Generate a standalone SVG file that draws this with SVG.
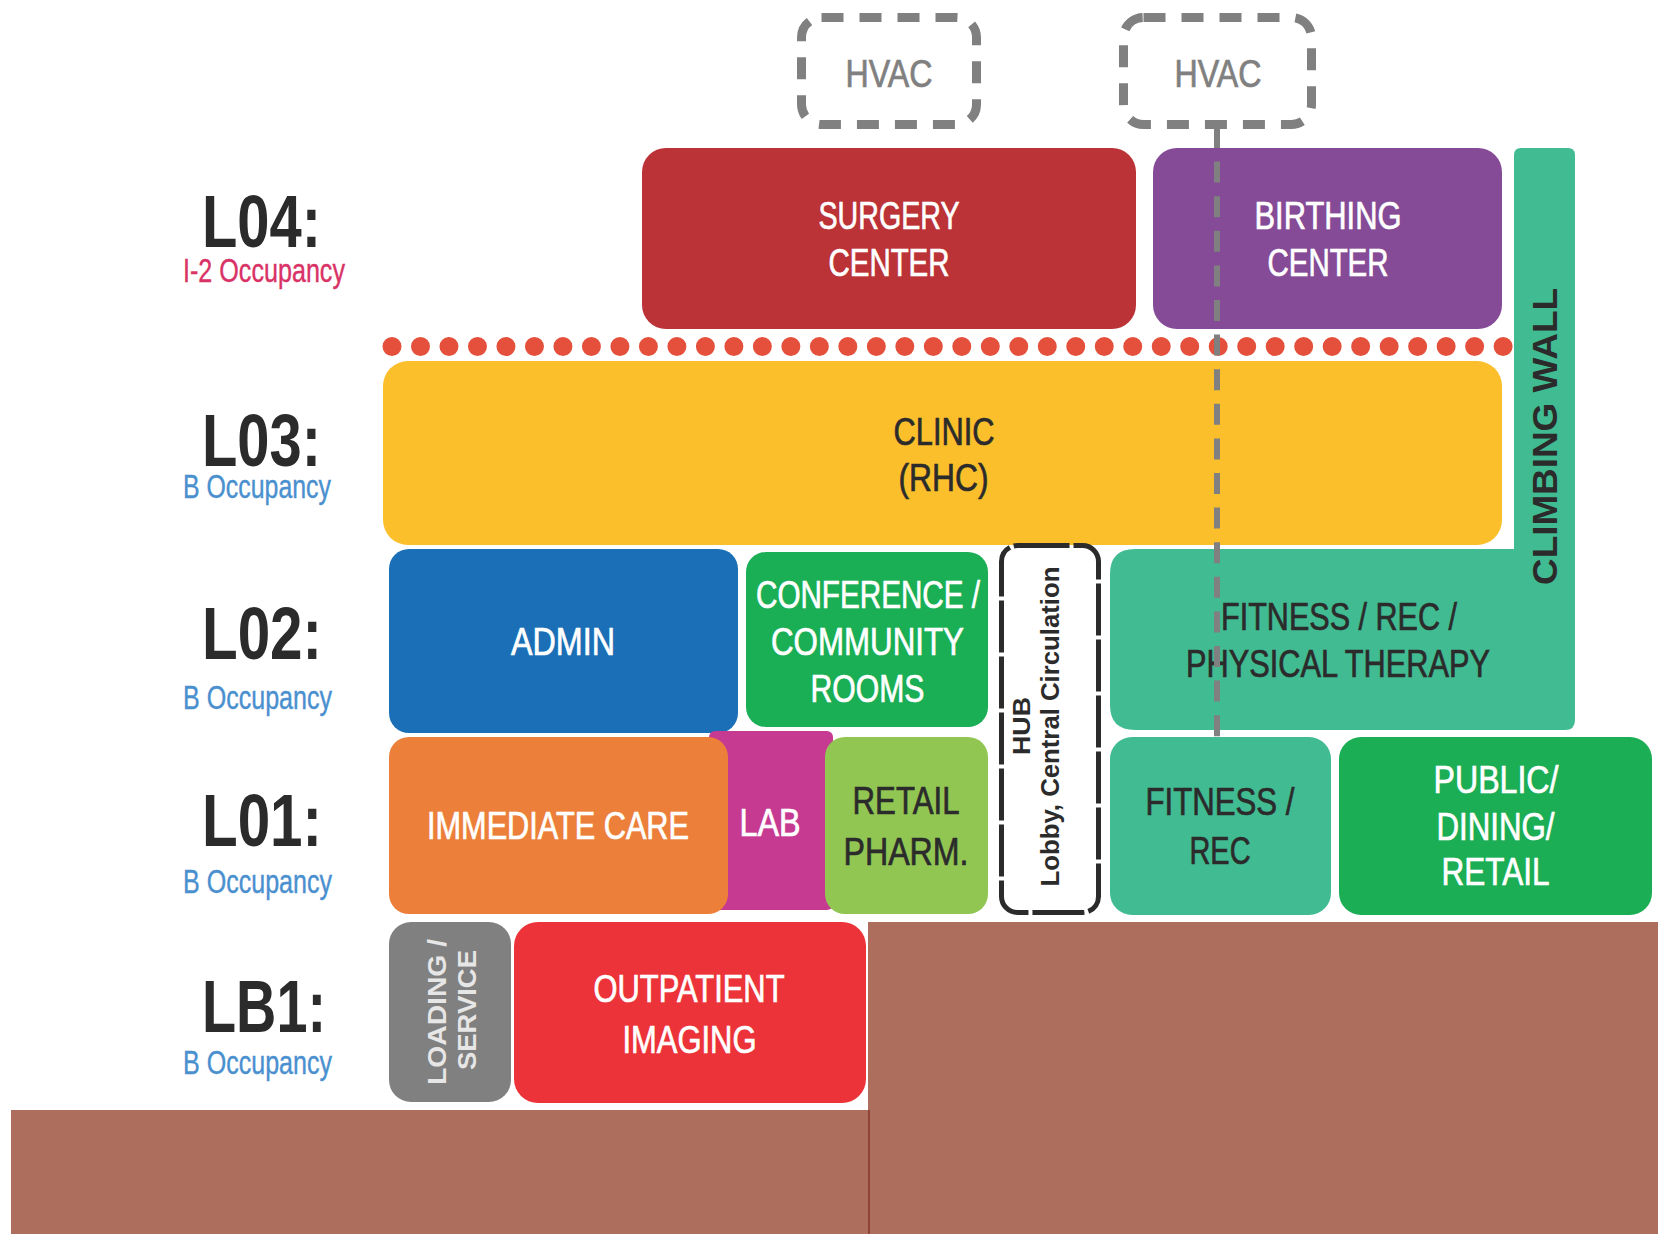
<svg xmlns="http://www.w3.org/2000/svg" width="1658" height="1234" viewBox="0 0 1658 1234">
<style>
text{font-family:"Liberation Sans",Arial,sans-serif}
.c{text-anchor:middle;font-size:38px;stroke-width:0.7px}
.w{fill:#ffffff;stroke:#ffffff}
.d{fill:#2b2b2b;stroke:#2b2b2b}
.lv{font-size:74px;fill:#2b2b2b;font-weight:bold}
.oc{font-size:34px;fill:#4a90cf;stroke:#4a90cf;stroke-width:0.4px}
.rb{font-weight:bold;text-anchor:middle}
.hv{fill:none;stroke:#808080;stroke-width:9;stroke-dasharray:22 16}
.ht{fill:#808080;stroke:#808080}
</style>
<rect width="1658" height="1234" fill="#ffffff"/>

<g id="ground">
<rect x="11" y="1110" width="858" height="124" fill="#ad6e5e"/>
<rect x="868" y="922" width="790" height="312" fill="#ad6e5e"/>
<line x1="869" y1="1110" x2="869" y2="1234" stroke="#8e4437" stroke-width="2"/>
</g>

<g id="levels">
<text class="lv" x="202" y="247" textLength="119" lengthAdjust="spacingAndGlyphs">L04:</text>
<text x="183" y="282" font-size="34" fill="#d93266" stroke="#d93266" stroke-width="0.4" textLength="162" lengthAdjust="spacingAndGlyphs">I-2 Occupancy</text>
<text class="lv" x="202" y="466" textLength="119" lengthAdjust="spacingAndGlyphs">L03:</text>
<text class="oc" x="183" y="498" textLength="148" lengthAdjust="spacingAndGlyphs">B Occupancy</text>
<text class="lv" x="202" y="659" textLength="120" lengthAdjust="spacingAndGlyphs">L02:</text>
<text class="oc" x="183" y="709" textLength="149" lengthAdjust="spacingAndGlyphs">B Occupancy</text>
<text class="lv" x="202" y="846" textLength="120" lengthAdjust="spacingAndGlyphs">L01:</text>
<text class="oc" x="183" y="893" textLength="149" lengthAdjust="spacingAndGlyphs">B Occupancy</text>
<text class="lv" x="202" y="1032" textLength="124" lengthAdjust="spacingAndGlyphs">LB1:</text>
<text class="oc" x="183" y="1074" textLength="149" lengthAdjust="spacingAndGlyphs">B Occupancy</text>
</g>

<g id="hvac1">
<rect class="hv" x="801.5" y="17.5" width="175" height="107" rx="20"/>
<text class="c ht" x="889" y="87" textLength="87" lengthAdjust="spacingAndGlyphs">HVAC</text>
</g>
<g id="hvac2">
<rect class="hv" x="1123.5" y="17.5" width="188" height="107" rx="20"/>
<text class="c ht" x="1218" y="87" textLength="87" lengthAdjust="spacingAndGlyphs">HVAC</text>
</g>

<g id="surgery">
<rect x="642" y="148" width="494" height="181" rx="24" fill="#bb3237"/>
<text class="c w" x="889" y="229" textLength="141" lengthAdjust="spacingAndGlyphs">SURGERY</text>
<text class="c w" x="889" y="276" textLength="121" lengthAdjust="spacingAndGlyphs">CENTER</text>
</g>

<g id="birthing">
<rect x="1153" y="148" width="349" height="181" rx="24" fill="#854b97"/>
<text class="c w" x="1328" y="229" textLength="147" lengthAdjust="spacingAndGlyphs">BIRTHING</text>
<text class="c w" x="1328" y="276" textLength="121" lengthAdjust="spacingAndGlyphs">CENTER</text>
</g>

<g id="fitness-pt">
<path d="M1135 549H1514V155Q1514 148 1521 148H1568Q1575 148 1575 155V720Q1575 730 1565 730H1135Q1110 730 1110 705V574Q1110 549 1135 549Z" fill="#41bb91"/>
<text class="c d" x="1339" y="630" textLength="236" lengthAdjust="spacingAndGlyphs">FITNESS / REC /</text>
<text class="c d" x="1338" y="677" textLength="304" lengthAdjust="spacingAndGlyphs">PHYSICAL THERAPY</text>
<text class="rb" fill="#2b2b2b" x="1557" y="436.5" font-size="35" transform="rotate(-90 1557 436.5)" textLength="297" lengthAdjust="spacingAndGlyphs">CLIMBING WALL</text>
</g>

<g id="clinic">
<rect x="383" y="361" width="1119" height="184" rx="25" fill="#fbbf2c"/>
<text class="c d" x="944" y="445" textLength="101" lengthAdjust="spacingAndGlyphs">CLINIC</text>
<text class="c d" x="943.5" y="491" textLength="90" lengthAdjust="spacingAndGlyphs">(RHC)</text>
</g>

<g id="level-line">
<line x1="392" y1="346.5" x2="1504" y2="346.5" stroke="#e4503b" stroke-width="19" stroke-linecap="round" stroke-dasharray="0 28.49"/>
</g>

<g id="admin">
<rect x="389" y="549" width="349" height="184" rx="20" fill="#1b6fb6"/>
<text class="c w" x="563" y="655" textLength="104" lengthAdjust="spacingAndGlyphs">ADMIN</text>
</g>

<g id="conference">
<rect x="746" y="552" width="242" height="175" rx="20" fill="#1aae55"/>
<text class="c w" x="868" y="608" textLength="224" lengthAdjust="spacingAndGlyphs">CONFERENCE /</text>
<text class="c w" x="867.5" y="655" textLength="193" lengthAdjust="spacingAndGlyphs">COMMUNITY</text>
<text class="c w" x="867.5" y="702" textLength="114" lengthAdjust="spacingAndGlyphs">ROOMS</text>
</g>

<g id="hub">
<rect x="1001.5" y="545.5" width="97" height="367" rx="16" fill="none" stroke="#2b2b2b" stroke-width="5" stroke-dasharray="52 4"/>
<text class="rb" fill="#2b2b2b" x="1030" y="726" font-size="24" transform="rotate(-90 1030 726)" textLength="58" lengthAdjust="spacingAndGlyphs">HUB</text>
<text class="rb" fill="#2b2b2b" x="1059" y="726.5" font-size="26" transform="rotate(-90 1059 726.5)" textLength="320" lengthAdjust="spacingAndGlyphs">Lobby, Central Circulation</text>
</g>

<g id="lab">
<rect x="709" y="731" width="124" height="179" rx="6" fill="#c63a92"/>
<text class="c w" x="770" y="836" textLength="61" lengthAdjust="spacingAndGlyphs">LAB</text>
</g>

<g id="immediate-care">
<rect x="389" y="737" width="339" height="177" rx="20" fill="#ec7f3a"/>
<text class="c w" x="558" y="839" textLength="262" lengthAdjust="spacingAndGlyphs">IMMEDIATE CARE</text>
</g>

<g id="retail-pharm">
<rect x="825" y="737" width="163" height="177" rx="20" fill="#92c653"/>
<text class="c d" x="906" y="814" textLength="107" lengthAdjust="spacingAndGlyphs">RETAIL</text>
<text class="c d" x="906" y="865" textLength="125" lengthAdjust="spacingAndGlyphs">PHARM.</text>
</g>

<g id="fitness-rec">
<rect x="1110" y="737" width="221" height="178" rx="22" fill="#41bb91"/>
<text class="c d" x="1220" y="815" textLength="149" lengthAdjust="spacingAndGlyphs">FITNESS /</text>
<text class="c d" x="1220" y="864" textLength="61" lengthAdjust="spacingAndGlyphs">REC</text>
</g>

<g id="public">
<rect x="1339" y="737" width="313" height="178" rx="22" fill="#1bae55"/>
<text class="c w" x="1496" y="793" textLength="125" lengthAdjust="spacingAndGlyphs">PUBLIC/</text>
<text class="c w" x="1495.5" y="840" textLength="118" lengthAdjust="spacingAndGlyphs">DINING/</text>
<text class="c w" x="1495.5" y="885" textLength="108" lengthAdjust="spacingAndGlyphs">RETAIL</text>
</g>

<g id="loading">
<rect x="389" y="922" width="122" height="180" rx="22" fill="#808080"/>
<text class="rb" x="446" y="1012" font-size="26" fill="#e6e6e6" transform="rotate(-90 446 1012)" textLength="146" lengthAdjust="spacingAndGlyphs">LOADING /</text>
<text class="rb" x="476" y="1010" font-size="26" fill="#e6e6e6" transform="rotate(-90 476 1010)" textLength="120" lengthAdjust="spacingAndGlyphs">SERVICE</text>
</g>

<g id="outpatient">
<rect x="514" y="922" width="352" height="181" rx="24" fill="#ec3339"/>
<text class="c w" x="689" y="1002" textLength="191" lengthAdjust="spacingAndGlyphs">OUTPATIENT</text>
<text class="c w" x="689.5" y="1053" textLength="134" lengthAdjust="spacingAndGlyphs">IMAGING</text>
</g>

<g id="connectors">
<path d="M1217 127V737" stroke="#808080" stroke-width="6" fill="none" stroke-dasharray="21 13.6"/>
</g>
</svg>
